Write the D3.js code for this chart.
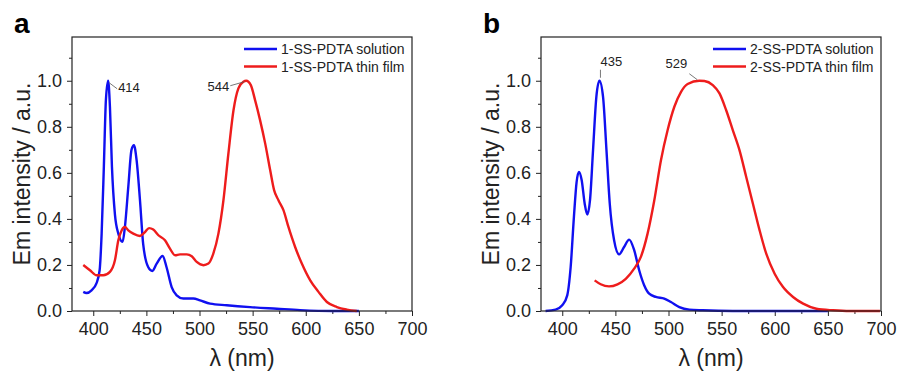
<!DOCTYPE html>
<html>
<head>
<meta charset="utf-8">
<script src="https://cdn.jsdelivr.net/npm/d3@7"></script>
<style>
  body { margin: 0; background: #fff; }
  svg { font-family: "Liberation Sans", Arial, sans-serif; }
</style>
</head>
<body>
<svg id="chart" width="900" height="374"></svg>
<script>
// tick values
const xTicks = [400, 450, 500, 550, 600, 650, 700];
const yTicks = [0.0, 0.2, 0.4, 0.6, 0.8, 1.0];

// panel a, [wavelength nm, normalised intensity]
const sol1 = [
  [390.6, 0.083], [393.7, 0.078], [398.4, 0.09], [403, 0.12], [406, 0.177], [407.9, 0.336],
  [410, 0.63], [411.9, 0.916], [414, 1.0], [415.7, 0.887], [417.6, 0.626], [420.4, 0.42],
  [423.6, 0.336], [427.6, 0.30], [429.8, 0.365], [433, 0.54], [436, 0.70], [438.3, 0.72],
  [440.8, 0.655], [444, 0.48], [447, 0.29], [451.8, 0.19], [455.6, 0.174], [459.7, 0.206],
  [465.3, 0.239], [469, 0.19], [473.8, 0.104], [478.5, 0.068], [484.8, 0.054], [494.2, 0.054],
  [500.5, 0.046], [510, 0.032], [525.6, 0.025], [547.6, 0.017], [572.8, 0.010], [594.7, 0.004],
  [626, 0.0], [650, 0.0]
];
const film1 = [
  [390.6, 0.20], [396.9, 0.177], [403.2, 0.155], [409.4, 0.155], [415.7, 0.17], [420.4, 0.22],
  [423.6, 0.307], [426.7, 0.35], [429.8, 0.365], [433, 0.35], [437.7, 0.336], [444, 0.326],
  [448.7, 0.343], [452.5, 0.36], [456.5, 0.354], [461.3, 0.329], [467.5, 0.307], [472.2, 0.271],
  [477, 0.242], [481.7, 0.246], [488, 0.246], [492.7, 0.238], [497.4, 0.213], [503.7, 0.199],
  [508.4, 0.206], [513, 0.249], [517.8, 0.336], [522.5, 0.48], [527.2, 0.684], [532, 0.872],
  [536.6, 0.967], [541.3, 0.996], [544, 1.0], [548.3, 0.981], [552.3, 0.916], [557, 0.829],
  [561.8, 0.728], [566.5, 0.612], [570.2, 0.525], [574.3, 0.481], [579, 0.438], [583.7, 0.365],
  [590, 0.278], [596.3, 0.206], [604.2, 0.133], [612, 0.083], [619.9, 0.039], [629.3, 0.017],
  [638.7, 0.006], [648, 0.0]
];

// panel b
const sol2 = [
  [384.3, 0.0], [393.7, 0.006], [400, 0.025], [404.7, 0.068], [407.9, 0.19], [411, 0.41],
  [413.5, 0.56], [415.7, 0.604], [418.3, 0.568], [421.1, 0.467], [423.6, 0.419], [426.1, 0.48],
  [429, 0.70], [432.1, 0.93], [435, 1.0], [438.4, 0.93], [441.6, 0.70], [444.7, 0.467],
  [448.8, 0.307], [453.5, 0.246], [458.2, 0.278], [463, 0.31], [467.7, 0.264], [472.4, 0.177],
  [477.1, 0.112], [481.8, 0.075], [488.1, 0.061], [496, 0.054], [502.3, 0.039], [510.2, 0.017],
  [519.6, 0.006], [532.2, 0.003], [560.5, 0.0], [650, 0.0]
];
const film2 = [
  [430.5, 0.133], [436.2, 0.116], [444, 0.107], [452, 0.116], [459.8, 0.14], [467.7, 0.184],
  [474, 0.235], [480.3, 0.336], [486.6, 0.48], [492.9, 0.655], [499.2, 0.786], [505.5, 0.887],
  [511.8, 0.952], [518, 0.986], [529, 1.0], [533.8, 0.999], [541.7, 0.981], [548, 0.945],
  [554.3, 0.872], [560.5, 0.786], [566.8, 0.699], [573.1, 0.583], [579.4, 0.467], [585.7, 0.351],
  [592, 0.249], [599.9, 0.162], [607.8, 0.104], [617.2, 0.061], [626.7, 0.032], [639.2, 0.01],
  [655, 0.003], [670.7, 0.0], [699, 0.0]
];

const blue = "#1010f0";
const red = "#ee1c1c";
const ink = "#222";

const svg = d3.select("#chart");

const drawPanel = (cfg) => {
  const left = cfg.left, top = 37, w = 340, h = 274;
  const x = d3.scaleLinear().domain([380, 700]).range([left, left + w]);
  const y = d3.scaleLinear().domain([0, 1.19]).range([top + h, top]);

  const g = svg.append("g");

  // minor ticks
  g.append("g")
    .attr("transform", `translate(0,${top + h})`)
    .call(d3.axisBottom(x).tickValues(d3.range(425, 700, 50)).tickSize(3).tickFormat(""))
    .call((a) => a.select(".domain").remove());
  g.append("g")
    .attr("transform", `translate(${left},0)`)
    .call(d3.axisLeft(y).tickValues(d3.range(0.1, 1.19, 0.2)).tickSize(3).tickFormat(""))
    .call((a) => a.select(".domain").remove());

  // major ticks
  const xa = g.append("g")
    .attr("transform", `translate(0,${top + h})`)
    .call(d3.axisBottom(x).tickValues(xTicks).tickSize(5).tickPadding(6).tickSizeOuter(0));
  const ya = g.append("g")
    .attr("transform", `translate(${left},0)`)
    .call(d3.axisLeft(y).tickValues(yTicks).tickSize(5).tickPadding(5).tickFormat(d3.format(".1f")).tickSizeOuter(0));
  [xa, ya].forEach((a) => {
    a.selectAll("text").attr("font-size", 18).attr("fill", ink).attr("font-family", "Liberation Sans");
    a.select(".domain").remove();
  });
  g.selectAll(".tick line").attr("stroke", ink);

  // lines
  const line = d3.line()
    .x((d) => x(d[0]))
    .y((d) => y(d[1]))
    .curve(d3.curveMonotoneX);
  g.append("path").datum(cfg.sol)
    .attr("fill", "none").attr("stroke", blue).attr("stroke-width", 2.4).attr("d", line);
  g.append("path").datum(cfg.film)
    .attr("fill", "none").attr("stroke", red).attr("stroke-width", 2.4).attr("d", line);

  // frame
  g.append("rect")
    .attr("x", left).attr("y", top).attr("width", w).attr("height", h)
    .attr("fill", "none").attr("stroke", ink).attr("stroke-width", 1.2);

  // legend
  const legend = [
    { name: cfg.names[0], color: blue },
    { name: cfg.names[1], color: red },
  ];
  legend.forEach((l, i) => {
    const ly = 49 + i * 17.5;
    g.append("line")
      .attr("x1", left + w - 168).attr("x2", left + w - 135)
      .attr("y1", ly).attr("y2", ly)
      .attr("stroke", l.color).attr("stroke-width", 2.4);
    g.append("text")
      .attr("x", left + w - 131).attr("y", ly + 5)
      .attr("font-size", 14).attr("fill", ink)
      .text(l.name);
  });

  // peak labels
  cfg.peaks.forEach((p) => {
    const px = x(p.nm), py = y(1.0);
    g.append("line")
      .attr("x1", px + p.l1[0]).attr("y1", py + p.l1[1])
      .attr("x2", px + p.l2[0]).attr("y2", py + p.l2[1])
      .attr("stroke", "#555").attr("stroke-width", 0.8);
    g.append("text")
      .attr("x", px + p.t[0]).attr("y", py + p.t[1])
      .attr("text-anchor", p.anchor)
      .attr("font-size", 13).attr("fill", ink)
      .text(p.nm);
  });

  // axis titles
  g.append("text")
    .attr("x", left + w / 2).attr("y", 366)
    .attr("text-anchor", "middle").attr("font-size", 23).attr("fill", ink)
    .text("λ (nm)");
  g.append("text")
    .attr("transform", `translate(${left - 42},${top + h / 2}) rotate(-90)`)
    .attr("text-anchor", "middle").attr("font-size", 23).attr("fill", ink)
    .text("Em intensity / a.u.");

  // panel letter
  g.append("text")
    .attr("x", left - 58).attr("y", 33)
    .attr("font-size", 28).attr("font-weight", "bold").attr("fill", "#000")
    .text(cfg.letter);
};

drawPanel({
  left: 72, letter: "a", sol: sol1, film: film1,
  names: ["1-SS-PDTA solution", "1-SS-PDTA thin film"],
  peaks: [
    { nm: 414, l1: [1, 2], l2: [9, 8], t: [10, 11], anchor: "start" },
    { nm: 544, l1: [-2, 1], l2: [-16, 5], t: [-17, 10], anchor: "end" },
  ],
});
drawPanel({
  left: 541, letter: "b", sol: sol2, film: film2,
  names: ["2-SS-PDTA solution", "2-SS-PDTA thin film"],
  peaks: [
    { nm: 435, l1: [1, -3], l2: [1, -11], t: [1, -15], anchor: "start" },
    { nm: 529, l1: [-2, -1], l2: [-10, -7], t: [-12, -13], anchor: "end" },
  ],
});
</script>
</body>
</html>
